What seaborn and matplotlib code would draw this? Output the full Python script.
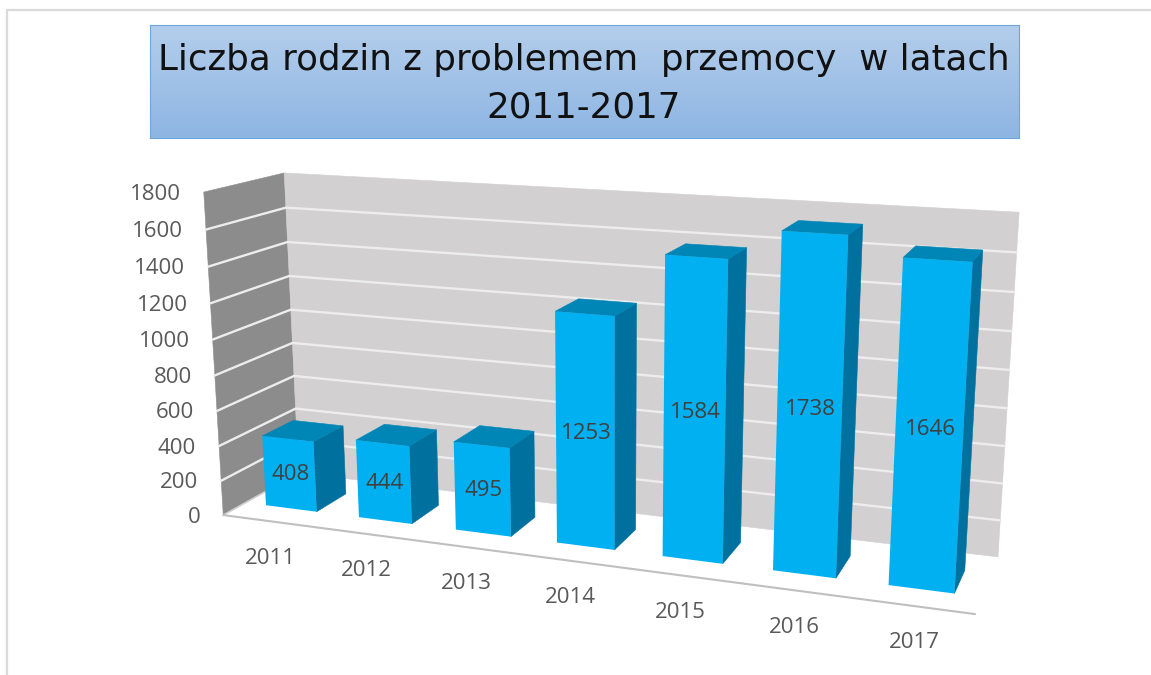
import numpy as np
import pandas as pd
import matplotlib
matplotlib.use("Agg")
import matplotlib.pyplot as plt
import seaborn as sns
from matplotlib.lines import Line2D
from matplotlib.patches import Polygon
from matplotlib.transforms import IdentityTransform, Transform

# values
years = ["2011", "2012", "2013", "2014", "2015", "2016", "2017"]
families = [408, 444, 495, 1253, 1584, 1738, 1646]
y_ticks = [0, 200, 400, 600, 800, 1000, 1200, 1400, 1600, 1800]

title_lines = "Liczba rodzin z problemem  przemocy  w latach\n2011-2017"

W, H = 1151, 675
BAR_Z = (0.28, 0.69)

# frame corners in the picture, used to fit the 3d projection
frame_model = np.array([
    [-0.5, 0, 0], [6.5, 0, 0], [-0.5, 1800, 0], [6.5, 1800, 0],
    [-0.5, 0, 1], [6.5, 0, 1], [-0.5, 1800, 1], [6.5, 1800, 1],
], dtype=float)
frame_pix = np.array([
    [223, 515], [975, 614], [204, 192], [997, 239],
    [299, 473], [998, 557], [284, 173], [1019, 212],
], dtype=float)


def fit_projection(model, pix):
    rows = []
    scale = np.array([1, 0.01, 10, 1])
    for (x, y, z), (u, v) in zip(model, pix):
        p = np.array([x, y, z, 1]) * scale
        rows.append(np.r_[p, np.zeros(4), -u * p])
        rows.append(np.r_[np.zeros(4), p, -v * p])
    m = np.linalg.svd(np.array(rows))[2][-1].reshape(3, 4)
    return m * scale


P = fit_projection(frame_model, frame_pix)


def project(x, y, z):
    x, y, z = np.broadcast_arrays(x, y, z)
    pts = np.c_[x.ravel(), y.ravel(), z.ravel(), np.ones(x.size)] @ P.T
    return np.c_[pts[:, 0] / pts[:, 2], H - pts[:, 1] / pts[:, 2]]


class Plane(Transform):
    # data (x, y) on the depth plane z -> display pixels
    input_dims = output_dims = 2
    is_affine = False

    def __init__(self, z):
        super().__init__()
        self.z = z

    def transform_non_affine(self, values):
        values = np.asarray(values)
        return project(values[:, 0], values[:, 1], self.z)


def face(ax, corners, color, z):
    ax.add_patch(Polygon(project(*np.array(corners).T), closed=True, facecolor=color,
                         edgecolor=color, lw=0.4, transform=IdentityTransform(),
                         clip_on=False, zorder=z))


sns.set_theme(style="white")
plt.rcParams["font.family"] = ["Open Sans", "DejaVu Sans"]

fig = plt.figure(figsize=(W / 100, H / 100), dpi=100)
ax = fig.add_axes([0, 0, 1, 1])

df = pd.DataFrame({"year": years, "families": families})
sns.barplot(data=df, x="year", y="families", color="#00B0F0", saturation=1, width=0.55, ax=ax)
ax.set_xlim(-0.5, 6.5)
ax.set_ylim(0, 1800)
ax.axis("off")

# walls and floor
x0, x1 = -0.5, 6.5
face(ax, [(x0, 0, 0), (x0, 0, 1), (x0, 1800, 1), (x0, 1800, 0)], "#8C8C8C", 1)
face(ax, [(x0, 0, 1), (x1, 0, 1), (x1, 1800, 1), (x0, 1800, 1)], "#D2D0D1", 1)
for v in y_ticks[1:-1]:
    pts = project([x0, x0, x1], v, [0, 1, 1])
    ax.plot(pts[:, 0], pts[:, 1], color="#EDEDED", lw=1.7, transform=IdentityTransform(),
            clip_on=False, zorder=1.5)
pts = project([x0, x0], 0, [1, 0])
ax.plot(pts[:, 0], pts[:, 1], color="#D0D0D0", lw=1.2, transform=IdentityTransform(), zorder=1.5)
pts = project([x0, x1], 0, 0)
ax.plot(pts[:, 0], pts[:, 1], color="#BFBFBF", lw=1.5, transform=IdentityTransform(), zorder=1.5)

# seaborn's bars are the front faces, sides and tops are built from them
front = Plane(BAR_Z[0])
for bar, value in zip(ax.patches, families):
    bar.set_transform(front)
    bar.set_clip_on(False)
    bar.set_edgecolor("none")
    bar.set_zorder(4)
    left, right, top = bar.get_x(), bar.get_x() + bar.get_width(), bar.get_height()
    z0, z1 = BAR_Z
    face(ax, [(right, 0, z0), (right, 0, z1), (right, top, z1), (right, top, z0)], "#00709E", 3)
    face(ax, [(left, top, z0), (right, top, z0), (right, top, z1), (left, top, z1)], "#0086B6", 3)
    ax.annotate(str(value), xy=(left + bar.get_width() / 2, top / 2), xycoords=front,
                xytext=(1, -1), textcoords="offset pixels", ha="center", va="center",
                fontsize=16, color="#404040", zorder=5, annotation_clip=False)

axis_plane = Plane(0)
for v in y_ticks:
    ax.annotate(str(v), xy=(x0, v), xycoords=axis_plane, xytext=(-23, -2),
                textcoords="offset pixels", ha="right", va="center",
                fontsize=16, color="#595959", annotation_clip=False)
for i, year in enumerate(years):
    ax.annotate(year, xy=(i, 0), xycoords=axis_plane, xytext=(1, -37),
                textcoords="offset pixels", ha="center", va="center",
                fontsize=16, color="#595959", annotation_clip=False)

# title box with gradient
box = fig.add_axes([150 / W, 1 - 138 / H, 869 / W, 113 / H])
sns.heatmap(np.linspace(0, 1, 60).reshape(-1, 1), ax=box, cbar=False, xticklabels=False,
            yticklabels=False, cmap=sns.blend_palette(["#B3CDEB", "#8DB5E2"], as_cmap=True))
box.patch.set_visible(False)
for s in box.spines.values():
    s.set_visible(True)
    s.set_color("#6DA6DC")
    s.set_linewidth(0.8)
fig.text(583.5 / W, 1 - 84 / H, title_lines, ha="center", va="center", fontsize=25.65,
         family="DejaVu Sans", color="#111111", linespacing=1.5)

# outer border of the picture
for xs, ys in [((7, W), (9.5, 9.5)), ((7, 7), (9.5, H))]:
    fig.add_artist(Line2D(np.array(xs) / W, 1 - np.array(ys) / H, color="#DADADA", lw=1.6))

fig.savefig("out.png", dpi=100)
